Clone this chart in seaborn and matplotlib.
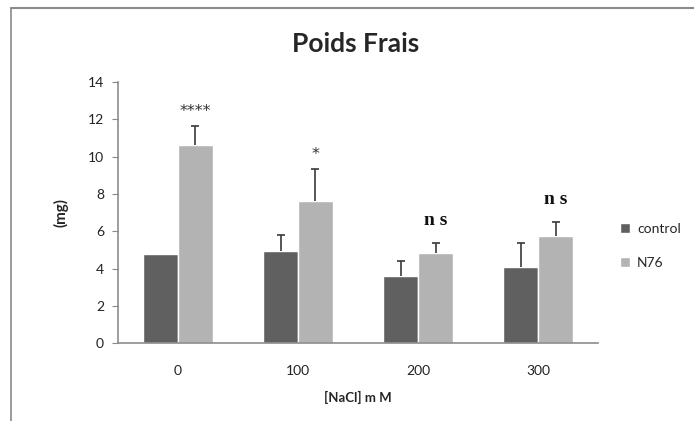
import numpy as np
import pandas as pd
import matplotlib
matplotlib.use('Agg')
import matplotlib.pyplot as plt
import seaborn as sns
from matplotlib.lines import Line2D

# Data
doses = ['0', '100', '200', '300']
groups = ['control', 'N76']
control_mean = [4.8, 4.95, 3.6, 4.1]
control_err = [0.0, 0.85, 0.8, 1.25]
n76_mean = [10.6, 7.6, 4.85, 5.75]
n76_err = [1.05, 1.75, 0.5, 0.75]
signif = ['****', '*', 'n s', 'n s']

df = pd.DataFrame({
    'dose': doses * 2,
    'group': ['control'] * 4 + ['N76'] * 4,
    'mean': control_mean + n76_mean,
    'err': control_err + n76_err,
})

sns.set_style('white')
plt.rcParams['font.family'] = ['Lato', 'DejaVu Sans']

fig = plt.figure(figsize=(6.94, 4.21), dpi=100)
ax = fig.add_axes([0.170, 0.185, 0.692, 0.620])

palette = {'control': '#606060', 'N76': '#b3b3b3'}
sns.barplot(data=df, x='dose', y='mean', hue='group', hue_order=groups,
            order=doses, palette=palette, width=0.58, gap=0,
            errorbar=None, saturation=1, ax=ax, legend=True)

# upper error bars only, centred on each bar
for bars, g in zip(ax.containers, groups):
    sub = df[df.group == g]
    for b, m, e in zip(bars, sub['mean'].values, sub['err'].values):
        if e <= 0:
            continue
        x = b.get_x() + b.get_width() / 2
        _, caps, _ = ax.errorbar([x], [m], yerr=[[0], [e]], fmt='none',
                                 ecolor='#3a3a3a', elinewidth=1.2,
                                 capsize=3, capthick=1.2)
        caps[0].set_visible(False)

# significance labels above N76 bars
n76_bars = ax.containers[1]
for b, m, e, s in zip(n76_bars, n76_mean, n76_err, signif):
    x = b.get_x() + b.get_width() / 2
    if s.startswith('n'):
        ax.text(x, m + e + 0.75, s, ha='center', va='bottom', fontsize=14,
                fontweight='bold', family='Liberation Serif', color='#111111')
    else:
        ax.text(x, m + e + 0.35, s, ha='center', va='bottom', fontsize=11.5,
                family='DejaVu Sans', color='#333333')

ax.set_ylim(0, 14)
ax.set_xlim(-0.5, 3.5)
ax.set_yticks(range(0, 15, 2))
ax.tick_params(axis='y', left=True, length=4, color='#888888', labelsize=10, pad=6)
ax.tick_params(axis='x', bottom=False, labelsize=10, pad=12)
for lab in ax.get_xticklabels() + ax.get_yticklabels():
    lab.set_color('#222222')
for side in ['top', 'right']:
    ax.spines[side].set_visible(False)
for side in ['left', 'bottom']:
    ax.spines[side].set_color('#8c8c8c')
    ax.spines[side].set_linewidth(1.2)

ax.set_xlabel('[NaCl] m M', fontsize=9.5, fontweight='bold', labelpad=10)
ax.set_ylabel('(mg)', fontsize=11, fontweight='bold', labelpad=14)
fig.suptitle('Poids Frais', x=0.512, y=0.925, fontsize=19, fontweight='bold')

leg = ax.legend(loc='center left', bbox_to_anchor=(1.02, 0.372), frameon=False,
                fontsize=10, handlelength=0.7, handleheight=0.7,
                handletextpad=0.5, labelspacing=1.6)

# outer chart frame (top and left edges)
fig.add_artist(Line2D([0.016, 1.0], [0.980, 0.980], color='#8a8a8a', lw=1.5))
fig.add_artist(Line2D([0.016, 0.016], [0.0, 0.980], color='#8a8a8a', lw=1.2))

fig.savefig('out.png', dpi=100)
